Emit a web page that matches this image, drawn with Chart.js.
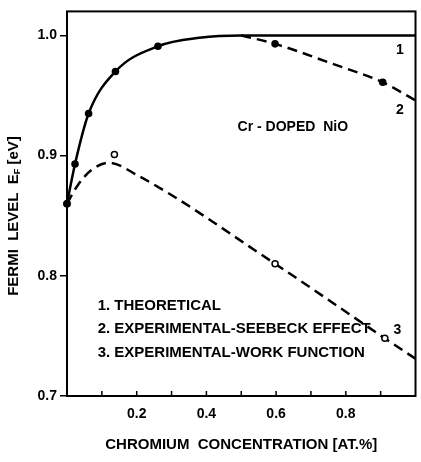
<!DOCTYPE html>
<html>
<head>
<meta charset="utf-8">
<script src="https://cdn.jsdelivr.net/npm/chart.js@4.4.0/dist/chart.umd.min.js"></script>
<style>
  body { margin: 0; background: #fff; }
  #wrap { width: 421px; height: 462px; }
</style>
</head>
<body>
<div id="wrap"><canvas id="fermiChart" width="421" height="462"></canvas></div>
<script>

// 1. theoretical (solid)
const theoryX = [0, 0.023, 0.062, 0.139, 0.261, 0.38, 0.5, 0.7, 1.0];
const theoryY = [0.86, 0.893, 0.935, 0.970, 0.991, 0.998, 1.0, 1.0, 1.0];

// 2. experimental - seebeck effect (filled dots + dashed tail)
const seebeckX = [0, 0.023, 0.062, 0.139, 0.261, 0.597, 0.906];
const seebeckY = [0.86, 0.893, 0.935, 0.970, 0.991, 0.993, 0.961];
const seebeckTailX = [0.5, 0.597, 0.756, 0.906, 1.0];
const seebeckTailY = [1.0, 0.993, 0.977, 0.961, 0.946];

// 3. experimental - work function (open circles + dashed curve)
const workX = [0, 0.136, 0.597, 0.912];
const workY = [0.86, 0.901, 0.810, 0.748];
const workLineX = [0, 0.03, 0.07, 0.12, 0.2, 0.597, 0.912, 1.0];
const workLineY = [0.86, 0.875, 0.888, 0.894, 0.884, 0.810, 0.748, 0.731];

const xTicks = [0.1, 0.2, 0.3, 0.4, 0.5, 0.6, 0.7, 0.8, 0.9];
const xTickLabels = ['', '0.2', '', '0.4', '', '0.6', '', '0.8', ''];
const yTicks = [0.7, 0.8, 0.9, 1.0];
const yTickLabels = ['0.7', '0.8', '0.9', '1.0'];

const legendLines = ['1. THEORETICAL', '2. EXPERIMENTAL-SEEBECK EFFECT', '3. EXPERIMENTAL-WORK FUNCTION'];

const ink = '#000';
const fontFamily = '"Liberation Sans", Arial, sans-serif';
const textFont = 'bold 15px ' + fontFamily;
const smallFont = 'bold 14px ' + fontFamily;

const toPoints = (xs, ys) => xs.map((x, i) => ({ x: x, y: ys[i] }));

// frame, inward x ticks, labels and y title
const extras = {
  id: 'extras',
  beforeDatasetsDraw(chart) {
    const { ctx, chartArea: a, scales: { x } } = chart;
    ctx.save();
    ctx.strokeStyle = ink;
    ctx.lineWidth = 2;
    ctx.strokeRect(a.left, a.top, a.right - a.left, a.bottom - a.top);
    ctx.lineWidth = 1.5;
    x.ticks.forEach(t => {
      const px = x.getPixelForValue(t.value);
      ctx.beginPath();
      ctx.moveTo(px, a.bottom);
      ctx.lineTo(px, a.bottom - 5);
      ctx.stroke();
    });
    ctx.restore();
  },
  afterDraw(chart) {
    const { ctx, scales: { x, y } } = chart;
    ctx.save();
    ctx.fillStyle = ink;
    ctx.textBaseline = 'middle';
    ctx.font = smallFont;
    ctx.textAlign = 'center';
    ctx.fillText('1', x.getPixelForValue(0.955), y.getPixelForValue(0.988));
    ctx.fillText('2', x.getPixelForValue(0.955), y.getPixelForValue(0.938));
    ctx.fillText('3', x.getPixelForValue(0.948), y.getPixelForValue(0.755));
    ctx.fillText('Cr - DOPED  NiO', x.getPixelForValue(0.648), y.getPixelForValue(0.924));

    ctx.font = textFont;
    ctx.textAlign = 'left';
    legendLines.forEach((txt, i) => {
      ctx.fillText(txt, x.getPixelForValue(0.088), y.getPixelForValue(0.775 - i * 0.0195));
    });

    // rotated y title with subscript F
    ctx.translate(14, 216);
    ctx.rotate(-Math.PI / 2);
    const head = 'FERMI  LEVEL  E';
    const tail = ' [eV]';
    const subFont = 'bold 9px ' + fontFamily;
    ctx.font = textFont;
    const wHead = ctx.measureText(head).width;
    const wTail = ctx.measureText(tail).width;
    ctx.font = subFont;
    const wSub = ctx.measureText('F').width;
    let cx = -(wHead + wSub + wTail) / 2;
    ctx.font = textFont;
    ctx.fillText(head, cx, 0);
    cx += wHead;
    ctx.font = subFont;
    ctx.fillText('F', cx, 4);
    cx += wSub;
    ctx.font = textFont;
    ctx.fillText(tail, cx, 0);
    ctx.restore();
  }
};

const lineStyle = {
  showLine: true,
  borderColor: ink,
  borderWidth: 2.5,
  pointRadius: 0,
  order: 3,
  cubicInterpolationMode: 'monotone'
};

new Chart(document.getElementById('fermiChart'), {
  type: 'scatter',
  data: {
    datasets: [
      Object.assign({ label: 'theoretical', data: toPoints(theoryX, theoryY) }, lineStyle),
      Object.assign({ label: 'seebeck tail', data: toPoints(seebeckTailX, seebeckTailY), borderDash: [10, 6] }, lineStyle),
      Object.assign({ label: 'work function line', data: toPoints(workLineX, workLineY), borderDash: [10, 6] }, lineStyle),
      {
        label: 'work function',
        data: toPoints(workX, workY),
        order: 2,
        clip: false,
        pointRadius: 3,
        pointBorderWidth: 1.5,
        pointBorderColor: ink,
        pointBackgroundColor: '#fff'
      },
      {
        label: 'seebeck',
        data: toPoints(seebeckX, seebeckY),
        order: 1,
        clip: false,
        pointRadius: 3.8,
        pointBorderWidth: 0,
        pointBackgroundColor: ink
      }
    ]
  },
  options: {
    responsive: false,
    animation: false,
    devicePixelRatio: 1,
    layout: { padding: { top: 8, right: 2, left: 0, bottom: 0 } },
    plugins: { legend: { display: false }, tooltip: { enabled: false } },
    scales: {
      x: {
        type: 'linear',
        min: 0,
        max: 1.0,
        afterBuildTicks: s => { s.ticks = xTicks.map(v => ({ value: v })); },
        afterFit: s => { s.height = 66; },
        grid: { display: false },
        border: { display: false },
        ticks: {
          autoSkip: false,
          maxRotation: 0,
          padding: 2,
          color: ink,
          font: { family: fontFamily, size: 14, weight: 'bold' },
          callback: (v, i) => xTickLabels[i]
        },
        title: {
          display: true,
          text: 'CHROMIUM  CONCENTRATION [AT.%]',
          color: ink,
          font: { family: fontFamily, size: 15, weight: 'bold' },
          padding: { top: 0, bottom: 8 }
        }
      },
      y: {
        type: 'linear',
        min: 0.7,
        max: 1.02,
        afterBuildTicks: s => { s.ticks = yTicks.map(v => ({ value: v })); },
        afterFit: s => { s.width = 67; },
        grid: { drawOnChartArea: false, drawTicks: true, tickLength: 7, color: ink, lineWidth: 1.5 },
        border: { display: false },
        ticks: {
          padding: 3,
          color: ink,
          font: { family: fontFamily, size: 14, weight: 'bold' },
          callback: (v, i) => yTickLabels[i]
        }
      }
    }
  },
  plugins: [extras]
});
</script>
</body>
</html>
